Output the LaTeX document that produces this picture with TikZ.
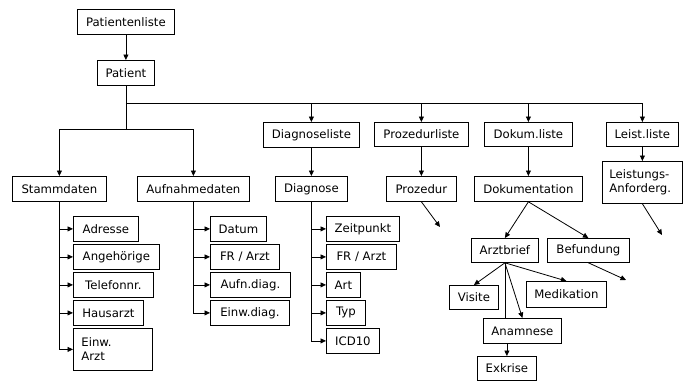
\documentclass[tikz,border=0pt]{standalone}
\usepackage{fontspec}
\setmainfont{DejaVu Sans}
\usetikzlibrary{arrows.meta}
\begin{document}
\begin{tikzpicture}[x=1pt,y=-1pt,
  font=\fontsize{11.7}{14}\selectfont,
  box/.style={draw, line width=0.8pt, inner sep=0pt, anchor=north west},
  arr/.style={-{Triangle[length=5.5pt,width=5pt]}, line width=0.8pt},
  ln/.style={line width=0.8pt}]
\useasboundingbox (0,0) rectangle (687,381);
% top
\node[box, minimum width=97pt, minimum height=25pt] (plist) at (77,9) {Patientenliste};
\node[box, minimum width=57pt, minimum height=25pt] (patient) at (97,60) {Patient};
% level 2
\node[box, minimum width=94pt, minimum height=25pt] (stamm) at (12,176) {Stammdaten};
\node[box, minimum width=112pt, minimum height=25pt] (aufn) at (137,176) {Aufnahmedaten};
\node[box, minimum width=96pt, minimum height=25pt] (diagl) at (263,122) {Diagnoseliste};
\node[box, minimum width=72pt, minimum height=25pt] (diag) at (275,176) {Diagnose};
\node[box, minimum width=94pt, minimum height=24pt] (prozl) at (374,122) {Prozedurliste};
\node[box, minimum width=70pt, minimum height=25pt] (proz) at (386,176) {Prozedur};
\node[box, minimum width=88pt, minimum height=24pt] (dokl) at (484,122) {Dokum.liste};
\node[box, minimum width=108pt, minimum height=25pt] (dok) at (474,176) {Dokumentation};
\node[box, minimum width=72pt, minimum height=24pt] (leistl) at (606,122) {Leist.liste};
\node[box, minimum width=80pt, minimum height=42pt, inner xsep=7pt, text width=66pt, align=left] (leist) at (602,161) {Leistungs-\\Anforderg.};
% Dokumentation subtree
\node[box, minimum width=67pt, minimum height=24pt] (arzt) at (471,238) {Arztbrief};
\node[box, minimum width=82pt, minimum height=24pt] (bef) at (547,238) {Befundung};
\node[box, minimum width=49pt, minimum height=24pt] (visite) at (449,285) {Visite};
\node[box, minimum width=80pt, minimum height=26pt] (medi) at (526,281) {Medikation};
\node[box, minimum width=78pt, minimum height=25pt] (anam) at (483,318) {Anamnese};
\node[box, minimum width=59pt, minimum height=24pt] (exk) at (477,356) {Exkrise};
% Stammdaten children
\node[box, minimum width=65pt, minimum height=25pt] (adresse) at (73,216) {Adresse};
\node[box, minimum width=86pt, minimum height=25pt] (angeh) at (73,244) {Angehörige};
\node[box, minimum width=80pt, minimum height=25pt] (tel) at (73,272) {Telefonnr.};
\node[box, minimum width=70pt, minimum height=25pt] (haus) at (73,300) {Hausarzt};
\node[box, minimum width=79pt, minimum height=42pt, inner xsep=8pt, text width=63pt, align=left] (einwarzt) at (73,328) {Einw.\\Arzt};
% Aufnahmedaten children
\node[box, minimum width=56pt, minimum height=25pt] (datum) at (210,216) {Datum};
\node[box, minimum width=69pt, minimum height=25pt] (frarzta) at (210,244) {FR / Arzt};
\node[box, minimum width=80pt, minimum height=25pt] (aufndiag) at (210,272) {Aufn.diag.};
\node[box, minimum width=79pt, minimum height=25pt] (einwdiag) at (210,300) {Einw.diag.};
% Diagnose children
\node[box, minimum width=73pt, minimum height=25pt] (zeit) at (326,216) {Zeitpunkt};
\node[box, minimum width=70pt, minimum height=25pt] (frarztb) at (326,244) {FR / Arzt};
\node[box, minimum width=34pt, minimum height=25pt] (art) at (326,272) {Art};
\node[box, minimum width=39pt, minimum height=25pt] (typ) at (326,300) {Typ};
\node[box, minimum width=53pt, minimum height=25pt] (icd) at (326,328) {ICD10};
% helper coordinates
\coordinate (busa) at (0,103);
\coordinate (busb) at (0,129);
\coordinate (pend) at (440,227);
\coordinate (lend) at (662,235);
\coordinate (bend) at (626,280);
% connectors
\draw[arr] (plist) -- (patient);
\draw[ln] (patient.south) -- (patient.south |- busb);
\draw[arr] (patient.south |- busb) -| (stamm.north);
\draw[arr] (patient.south |- busb) -| (aufn.north);
\draw[ln] (patient.south |- busa) -- (leistl.north |- busa);
\draw[arr] (diagl.north |- busa) -- (diagl.north);
\draw[arr] (prozl.north |- busa) -- (prozl.north);
\draw[arr] (dokl.north |- busa) -- (dokl.north);
\draw[arr] (leistl.north |- busa) -- (leistl.north);
\draw[arr] (diagl) -- (diag);
\draw[arr] (prozl) -- (proz);
\draw[arr] (dokl) -- (dok);
\draw[arr] (leistl) -- (leist);
\draw[arr] (proz.south) -- (pend);
\draw[arr] (leist.south) -- (lend);
\draw[arr] (dok.south) -- (arzt.north);
\draw[arr] (dok.south) -- (bef.north);
\draw[arr] (bef.south) -- (bend);
\draw[arr] (arzt.south) -- (visite.north);
\draw[arr] (arzt.south) -- (medi.north);
\draw[arr] (arzt.south) -- (anam.north);
\draw[ln] (arzt.south) -- (arzt.south |- anam.north);
\draw[arr] (exk.north |- anam.south) -- (exk.north);
% Stammdaten list
\draw[ln] (stamm.south) -- (stamm.south |- einwarzt.west);
\foreach \n in {adresse,angeh,tel,haus,einwarzt}
  \draw[arr] (stamm.south |- \n.west) -- (\n.west);
% Aufnahmedaten list
\draw[ln] (aufn.south) -- (aufn.south |- einwdiag.west);
\foreach \n in {datum,frarzta,aufndiag,einwdiag}
  \draw[arr] (aufn.south |- \n.west) -- (\n.west);
% Diagnose list
\draw[ln] (diag.south) -- (diag.south |- icd.west);
\foreach \n in {zeit,frarztb,art,typ,icd}
  \draw[arr] (diag.south |- \n.west) -- (\n.west);
\end{tikzpicture}
\end{document}
